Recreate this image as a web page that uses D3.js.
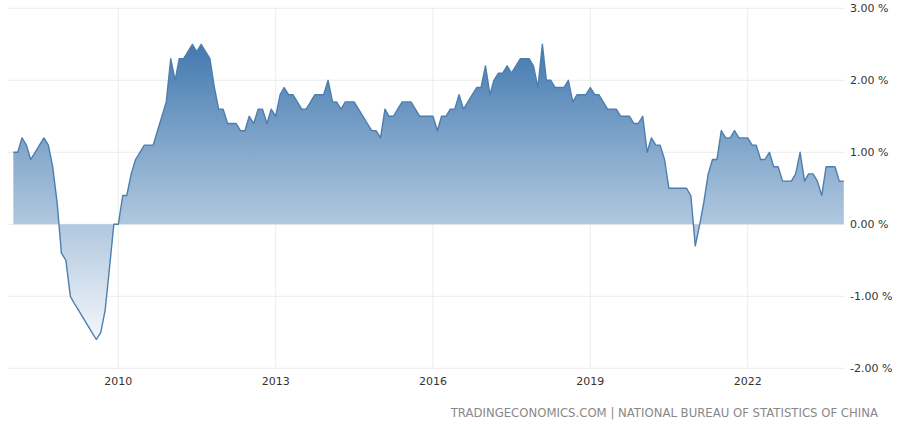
<!DOCTYPE html>
<html>
<head>
<meta charset="utf-8">
<script src="https://cdn.jsdelivr.net/npm/d3@7"></script>
<style>
  body { margin: 0; background: #fff; }
  svg { display: block; font-family: "DejaVu Sans", Verdana, sans-serif; }
</style>
</head>
<body>
<svg width="900" height="425"></svg>
<script>
// monthly values, Jan 2008 .. Nov 2023 (% y/y)
var startMonth = "2008-01";
var values = [
  1.0, 1.0, 1.2, 1.1, 0.9, 1.0, 1.1, 1.2, 1.1, 0.8, 0.3, -0.4,      // 2008
  -0.5, -1.0, -1.1, -1.2, -1.3, -1.4, -1.5, -1.6, -1.5, -1.2, -0.6, 0.0, // 2009
  0.0, 0.4, 0.4, 0.7, 0.9, 1.0, 1.1, 1.1, 1.1, 1.3, 1.5, 1.7,       // 2010
  2.3, 2.0, 2.3, 2.3, 2.4, 2.5, 2.4, 2.5, 2.4, 2.3, 1.9, 1.6,       // 2011
  1.6, 1.4, 1.4, 1.4, 1.3, 1.3, 1.5, 1.4, 1.6, 1.6, 1.4, 1.6,       // 2012
  1.5, 1.8, 1.9, 1.8, 1.8, 1.7, 1.6, 1.6, 1.7, 1.8, 1.8, 1.8,       // 2013
  2.0, 1.7, 1.7, 1.6, 1.7, 1.7, 1.7, 1.6, 1.5, 1.4, 1.3, 1.3,       // 2014
  1.2, 1.6, 1.5, 1.5, 1.6, 1.7, 1.7, 1.7, 1.6, 1.5, 1.5, 1.5,       // 2015
  1.5, 1.3, 1.5, 1.5, 1.6, 1.6, 1.8, 1.6, 1.7, 1.8, 1.9, 1.9,       // 2016
  2.2, 1.8, 2.0, 2.1, 2.1, 2.2, 2.1, 2.2, 2.3, 2.3, 2.3, 2.2,       // 2017
  1.9, 2.5, 2.0, 2.0, 1.9, 1.9, 1.9, 2.0, 1.7, 1.8, 1.8, 1.8,       // 2018
  1.9, 1.8, 1.8, 1.7, 1.6, 1.6, 1.6, 1.5, 1.5, 1.5, 1.4, 1.4,       // 2019
  1.5, 1.0, 1.2, 1.1, 1.1, 0.9, 0.5, 0.5, 0.5, 0.5, 0.5, 0.4,       // 2020
  -0.3, 0.0, 0.3, 0.7, 0.9, 0.9, 1.3, 1.2, 1.2, 1.3, 1.2, 1.2,      // 2021
  1.2, 1.1, 1.1, 0.9, 0.9, 1.0, 0.8, 0.8, 0.6, 0.6, 0.6, 0.7,       // 2022
  1.0, 0.6, 0.7, 0.7, 0.6, 0.4, 0.8, 0.8, 0.8, 0.6, 0.6             // 2023
];
var yTicks = [3, 2, 1, 0, -1, -2];
var xTickYears = [2010, 2013, 2016, 2019, 2022];
var sourceText = "TRADINGECONOMICS.COM | NATIONAL BUREAU OF STATISTICS OF CHINA";

var parseMonth = d3.timeParse("%Y-%m");
var t0 = parseMonth(startMonth);
var data = values.map(function(v, i) {
  return { date: d3.timeMonth.offset(t0, i), value: v };
});

var svg = d3.select("svg");
var left = 8, right = 845;

var x = d3.scaleTime()
    .domain([new Date(2010, 0, 1), new Date(2022, 0, 1)])
    .range([118.3, 747.7]);
var y = d3.scaleLinear()
    .domain([-2, 3])
    .range([368.3, 8.3]);

// gradient fill, dark at top, fading to white at the bottom
var defs = svg.append("defs");
var lg = defs.append("linearGradient")
    .attr("id", "areaGrad")
    .attr("gradientUnits", "userSpaceOnUse")
    .attr("x1", 0).attr("x2", 0)
    .attr("y1", y(2.6)).attr("y2", y(-1.7));
lg.append("stop").attr("offset", "0%").attr("stop-color", "#3f76ad");
lg.append("stop").attr("offset", "42%").attr("stop-color", "#8fb0d1");
lg.append("stop").attr("offset", "100%").attr("stop-color", "#f8fafd");

// grid
svg.append("g").selectAll("line")
    .data(yTicks)
    .enter().append("line")
    .attr("x1", left).attr("x2", right)
    .attr("y1", function(d) { return y(d); })
    .attr("y2", function(d) { return y(d); })
    .attr("stroke", "#ececec")
    .attr("stroke-width", 1);

svg.append("g").selectAll("line")
    .data(xTickYears)
    .enter().append("line")
    .attr("x1", function(d) { return x(new Date(d, 0, 1)); })
    .attr("x2", function(d) { return x(new Date(d, 0, 1)); })
    .attr("y1", y(3)).attr("y2", y(-2))
    .attr("stroke", "#ececec")
    .attr("stroke-width", 1);

// area + line
var area = d3.area()
    .x(function(d) { return x(d.date); })
    .y0(y(0))
    .y1(function(d) { return y(d.value); });
var line = d3.line()
    .x(function(d) { return x(d.date); })
    .y(function(d) { return y(d.value); });

svg.append("path")
    .datum(data)
    .attr("d", area)
    .attr("fill", "url(#areaGrad)");

svg.append("path")
    .datum(data)
    .attr("d", line)
    .attr("fill", "none")
    .attr("stroke", "#4d7eae")
    .attr("stroke-width", 1.4)
    .attr("stroke-linejoin", "round");

// y labels on the right (plain hyphen for negatives)
svg.append("g").selectAll("text")
    .data(yTicks)
    .enter().append("text")
    .attr("x", 850)
    .attr("y", function(d) { return y(d); })
    .attr("dy", "0.35em")
    .attr("font-size", "11px")
    .attr("fill", "#333")
    .text(function(d) { return d.toFixed(2) + " %"; });

// x labels
svg.append("g").selectAll("text")
    .data(xTickYears)
    .enter().append("text")
    .attr("x", function(d) { return x(new Date(d, 0, 1)); })
    .attr("y", 385)
    .attr("text-anchor", "middle")
    .attr("font-size", "11px")
    .attr("fill", "#333")
    .text(function(d) { return d; });

// source
svg.append("text")
    .attr("x", 878)
    .attr("y", 417)
    .attr("text-anchor", "end")
    .attr("font-size", "11.7px")
    .attr("fill", "#888")
    .text(sourceText);
</script>
</body>
</html>
